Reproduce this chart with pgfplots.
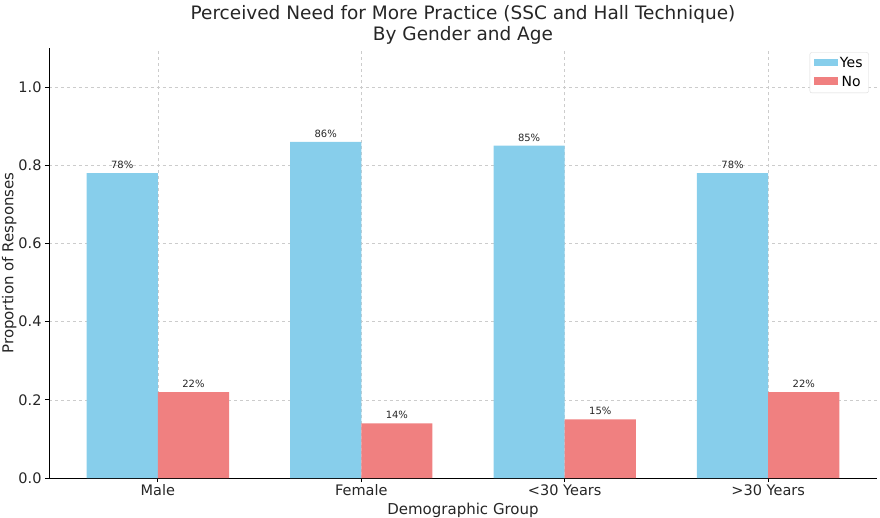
\documentclass[border=0pt]{standalone}
\usepackage{pgfplots}
\pgfplotsset{compat=1.18}
\usepackage{fontspec}
\setmainfont{DejaVu Sans}
\definecolor{skyb}{HTML}{87CEEB}
\definecolor{lcoral}{HTML}{F08080}
\definecolor{txt}{HTML}{262626}
\begin{document}
\begin{tikzpicture}
\begin{axis}[
  at={(0,0)}, anchor=south west,
  scale only axis, width=828bp, height=430bp,
  xmin=-0.535, xmax=3.535, ymin=0, ymax=1.1,
  axis x line*=bottom, axis y line*=left,
  axis line style={black, line width=0.9pt},
  xtick={0,1,2,3},
  xticklabels={Male,Female,{<30 Years},{>30 Years}},
  ytick={0,0.2,0.4,0.6,0.8,1.0},
  yticklabel style={/pgf/number format/fixed,/pgf/number format/fixed zerofill,/pgf/number format/precision=1},
  /pgf/number format/assume math mode=true,
  tick style={black, line width=0.7pt},
  major tick length=4bp,
  xtick align=inside,
  ytick align=outside,
  ticklabel style={font=\fontsize{14.5bp}{16bp}\selectfont, text=txt},
  xticklabel style={yshift=1bp},
  grid=major,
  grid style={dashed, gray!40, line width=0.5pt},
  xlabel={Demographic Group},
  ylabel={Proportion of Responses},
  label style={font=\fontsize{15bp}{17bp}\selectfont, text=txt},
  xlabel style={yshift=-1bp},
  ylabel style={yshift=-5bp},
  title={Perceived Need for More Practice (SSC and Hall Technique)\\By Gender and Age},
  title style={font=\fontsize{18.5bp}{21bp}\selectfont, text=txt, align=center, yshift=-6bp},
  ybar, bar width=0.35, bar shift auto=false,
  legend style={at={(0.99,0.99)}, anchor=north east, font=\fontsize{14bp}{16bp}\selectfont, draw=gray!30, rounded corners=2pt, row sep=3bp, inner xsep=4bp, inner ysep=3bp},
  legend image code/.code={\draw[#1, draw=none, sharp corners] (0cm,-0.1cm) rectangle (0.85cm,0.17cm);},
  nodes near coords={\pgfmathprintnumber[fixed,precision=0]{\pgfplotspointmeta}\%},
  point meta={y*100},
  nodes near coords style={font=\fontsize{10bp}{12bp}\selectfont, text=txt, yshift=1bp},
  clip=false,
]
\addplot[fill=skyb, draw=none, bar shift=-0.175] coordinates {(0,0.78) (1,0.86) (2,0.85) (3,0.78)};
\addplot[fill=lcoral, draw=none, bar shift=0.175] coordinates {(0,0.22) (1,0.14) (2,0.15) (3,0.22)};
\legend{Yes,No}
\end{axis}
\pgfresetboundingbox
\path[use as bounding box] (-49bp,-40bp) rectangle (831bp,478bp);
\end{tikzpicture}
\end{document}
